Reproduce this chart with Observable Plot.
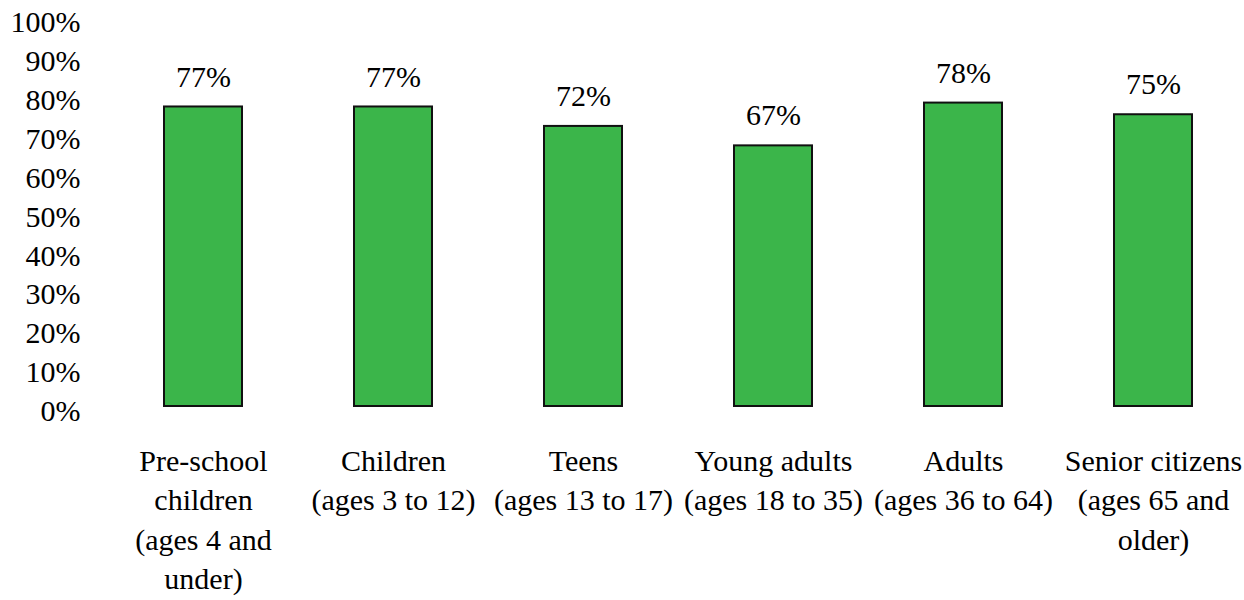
<!DOCTYPE html>
<html>
<head>
<meta charset="utf-8">
<script src="https://cdn.jsdelivr.net/npm/d3@7"></script>
<script src="https://cdn.jsdelivr.net/npm/@observablehq/plot@0.6"></script>
<style>
  html, body { margin: 0; padding: 0; background: #ffffff; }
  #chart { width: 1244px; height: 600px; }
</style>
</head>
<body>
<div id="chart"></div>
<script>
// Age groups (wrapped onto lines as shown under each bar)
const groups = [
  "Pre-school\nchildren\n(ages 4 and\nunder)",
  "Children\n(ages 3 to 12)",
  "Teens\n(ages 13 to 17)",
  "Young adults\n(ages 18 to 35)",
  "Adults\n(ages 36 to 64)",
  "Senior citizens\n(ages 65 and\nolder)"
];

// Share of each group, in percent
const shares = [77, 77, 72, 67, 78, 75];

// Percent gridline values for the vertical axis
const yTicks = [0, 10, 20, 30, 40, 50, 60, 70, 80, 90, 100];

const rows = groups.map((g, i) => ({group: g, share: shares[i]}));

const serif = "Liberation Serif";

const chart = Plot.plot({
  width: 1244,
  height: 600,
  marginTop: 17,
  marginBottom: 194,
  marginLeft: 107,
  marginRight: 0,
  style: {fontFamily: serif, fontSize: "30px", color: "#000", background: "#fff"},
  x: {domain: groups, range: [107, 1249], paddingInner: 0.588, paddingOuter: 0.294, align: 0.5},
  y: {domain: [0, 100]},
  marks: [
    Plot.barY(rows, {
      x: "group",
      y: "share",
      fill: "#3bb54a",
      stroke: "#111",
      strokeWidth: 2
    }),
    Plot.text(rows, {
      x: "group",
      y: "share",
      text: d => `${d.share}%`,
      lineAnchor: "middle",
      dy: -30,
      fontSize: 30,
      fontFamily: serif,
      fill: "#000"
    }),
    Plot.axisY({
      ticks: yTicks,
      tickFormat: d => `${d}%`,
      tickSize: 0,
      tickPadding: 27,
      dy: 5,
      fontSize: 30,
      fontFamily: serif,
      label: null
    }),
    Plot.axisX({
      tickSize: 0,
      tickPadding: 36,
      lineHeight: 1.32,
      fontSize: 30,
      fontFamily: serif,
      label: null
    })
  ]
});

document.getElementById("chart").appendChild(chart);

// Serif face on every label, set with priority so no stylesheet overrides it
chart.style.setProperty("font-family", `"${serif}", serif`, "important");
chart.querySelectorAll("g, text, tspan").forEach(el => {
  el.style.setProperty("font-family", `"${serif}", serif`, "important");
});
</script>
</body>
</html>
